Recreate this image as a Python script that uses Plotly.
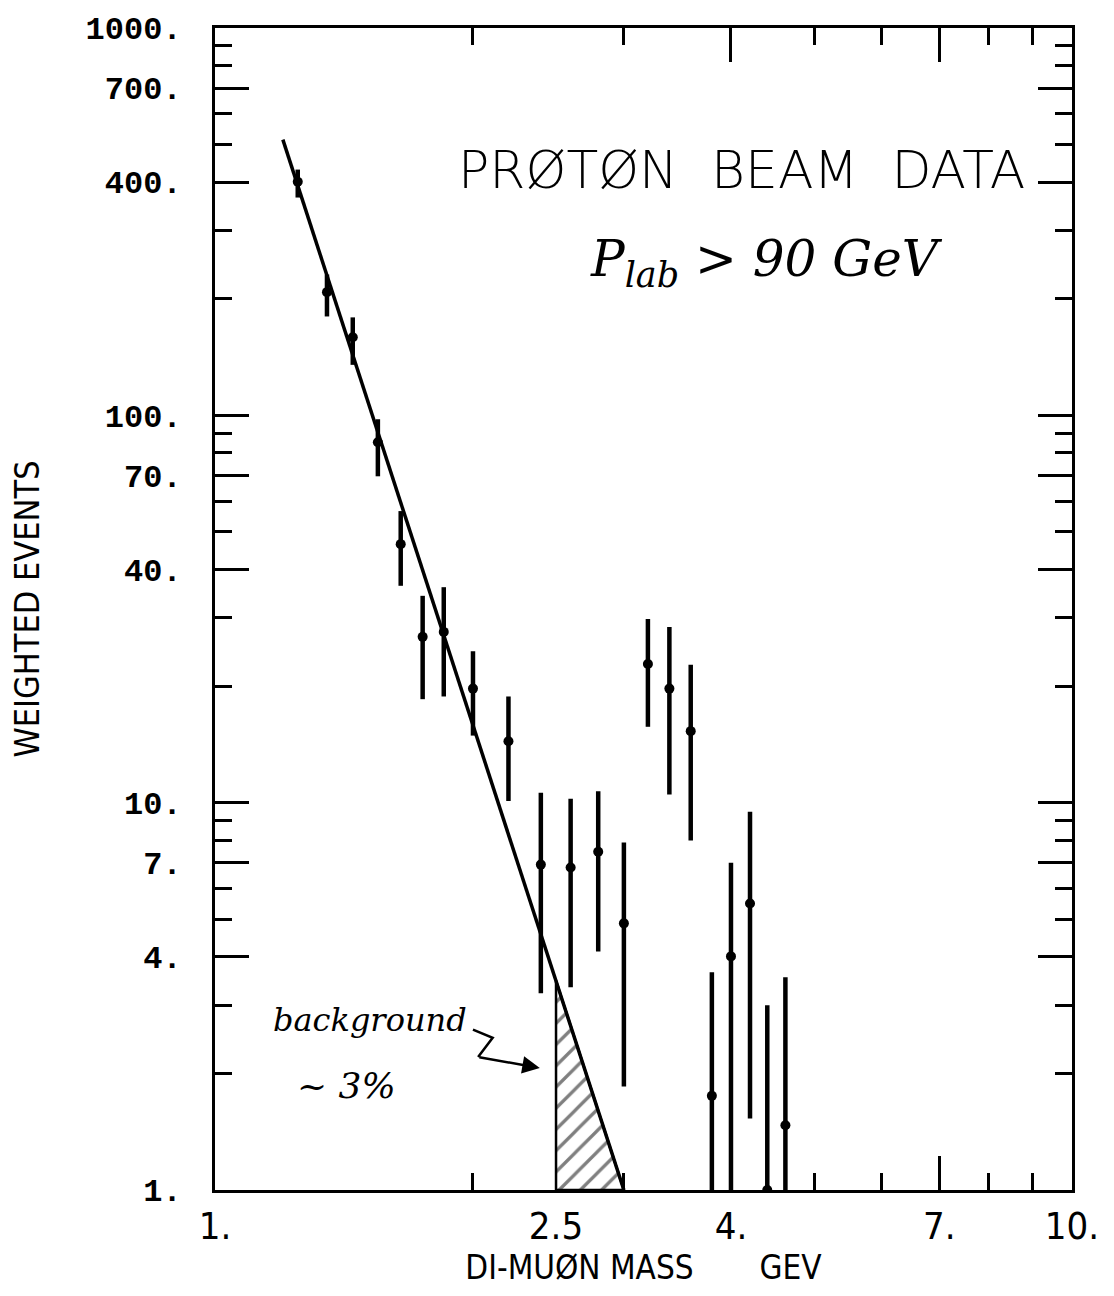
import plotly.graph_objects as go

# ---- data ----
mass = [1.249, 1.351, 1.448, 1.549, 1.647, 1.747, 1.849, 2.00, 2.20,
        2.40, 2.60, 2.80, 3.00, 3.20, 3.39, 3.59, 3.80, 4.00, 4.21, 4.41, 4.63]
events = [401, 208, 159, 85.2, 46.5, 26.8, 27.6, 19.7, 14.4,
          6.92, 6.80, 7.47, 4.88, 22.8, 19.7, 15.3, 1.75, 4.01, 5.49, 1.0, 1.47]
err_hi = [431, 231, 179, 97.7, 56.6, 34.2, 36.0, 24.6, 18.8,
          10.6, 10.24, 10.7, 7.89, 29.8, 28.4, 22.7, 3.65, 7.0, 9.48, 3.0, 3.54]
err_lo = [365, 180, 135, 69.6, 36.3, 18.5, 18.8, 14.9, 10.1,
          3.22, 3.34, 4.13, 1.85, 15.7, 10.5, 7.98, 1.0, 1.0, 1.53, 1.0, 1.0]

fit_x = [1.20, 3.00]
fit_y = [515, 1.0]

bg_x = [2.5, 2.5, 3.0, 2.5]
bg_y = [1.0, 3.47, 1.0, 1.0]

x_tickvals = [1, 2.5, 4, 7, 10]
x_ticktext = ["1.", "2.5", "4.", "7.", "10."]
x_long_ticks = [4, 7]
x_minor = [2, 3, 5, 6, 8, 9]
y_tickvals = [1, 4, 7, 10, 40, 70, 100, 400, 700, 1000]
y_ticktext = ["1.", "4.", "7.", "10.", "40.", "70.", "100.", "400.", "700.", "1000."]
y_minor = [2, 3, 5, 6, 8, 9, 20, 30, 50, 60, 80, 90, 200, 300, 500, 600, 800, 900]

NARROW = "Liberation Sans Narrow, DejaVu Sans Condensed, Arial Narrow, sans-serif"
HAND = "DejaVu Serif, serif"
NB = "\u00a0"

fig = go.Figure()

# hatched background region
fig.add_trace(go.Scatter(
    x=bg_x, y=bg_y, mode="lines", fill="toself",
    fillcolor="white",
    fillpattern=dict(shape="/", fgcolor="black", bgcolor="white", size=15, solidity=0.22),
    line=dict(color="black", width=2.5), hoverinfo="skip", showlegend=False,
    xaxis="x2", yaxis="y"))

# fit line
fig.add_trace(go.Scatter(
    x=fit_x, y=fit_y, mode="lines", line=dict(color="black", width=3.5),
    showlegend=False, xaxis="x2", yaxis="y"))

# data with error bars
fig.add_trace(go.Scatter(
    x=mass, y=events, mode="markers",
    marker=dict(color="black", size=10, symbol="circle"),
    error_y=dict(type="data", symmetric=False,
                 array=[h - v for h, v in zip(err_hi, events)],
                 arrayminus=[v - l for v, l in zip(events, err_lo)],
                 thickness=4.5, width=0, color="black"),
    showlegend=False, xaxis="x", yaxis="y"))

axis_common = dict(type="log", showgrid=False, zeroline=False, automargin=False)

fig.update_layout(
    width=1114, height=1296,
    margin=dict(l=215, r=42, t=28, b=106),
    paper_bgcolor="white", plot_bgcolor="white",
    xaxis=dict(**axis_common, range=[0, 1],
               tickmode="array", tickvals=x_tickvals, ticktext=x_ticktext,
               ticks="", showline=True, linecolor="black", linewidth=3, mirror="ticks",
               tickfont=dict(family=NARROW, size=38, color="black"),
               ticklabelstandoff=0,
               minor=dict(tickmode="array", tickvals=x_minor, ticks="inside",
                          ticklen=17, tickwidth=2.5, tickcolor="black"),
               title=dict(text="DI-MUØN" + NB + "MASS" + NB * 7 + "GEV" + NB * 9,
                          font=dict(family=NARROW, size=33, color="black"), standoff=8)),
    xaxis2=dict(**axis_common, range=[0, 1], overlaying="x", anchor="y", side="bottom",
                tickmode="array", tickvals=x_long_ticks, ticks="inside", ticklen=34,
                tickwidth=3, tickcolor="black", showticklabels=False, mirror="ticks",
                showline=False),
    yaxis=dict(**axis_common, range=[0, 3],
               tickmode="array", tickvals=y_tickvals, ticktext=y_ticktext,
               ticks="inside", ticklen=34, tickwidth=3, tickcolor="black",
               showline=True, linecolor="black", linewidth=3, mirror="ticks",
               tickfont=dict(family="Liberation Mono, Courier New, monospace", size=32,
                             color="black", weight="bold"),
               ticklabelstandoff=24,
               minor=dict(tickmode="array", tickvals=y_minor, ticks="inside",
                          ticklen=17, tickwidth=2.5, tickcolor="black"),
               title=dict(text="WEIGHTED EVENTS",
                          font=dict(family=NARROW, size=34, color="black"), standoff=36)),
)

fig.add_annotation(x=0.614, y=0.878, xref="paper", yref="paper",
                   xanchor="center", yanchor="middle",
                   text="PRØTØN" + NB * 2 + "BEAM" + NB * 2 + "DATA", showarrow=False,
                   font=dict(family="DejaVu Sans, sans-serif", size=52, color="black", weight=300))
fig.add_annotation(x=0.644, y=0.798, xref="paper", yref="paper",
                   xanchor="center", yanchor="middle",
                   text="<i>P<sub>lab</sub> > 90" + NB + "GeV</i>", showarrow=False,
                   font=dict(family=HAND, size=50, color="black"))
fig.add_annotation(x=0.181, y=0.146, xref="paper", yref="paper",
                   xanchor="center", yanchor="middle",
                   text="<i>background</i>", showarrow=False,
                   font=dict(family=HAND, size=32, color="black"))
fig.add_annotation(x=0.153, y=0.090, xref="paper", yref="paper",
                   xanchor="center", yanchor="middle",
                   text="<i>~ 3%</i>", showarrow=False,
                   font=dict(family=HAND, size=36, color="black"))
# arrow pointing at the hatched background
fig.add_annotation(x=0.379, y=0.105, xref="paper", yref="paper",
                   ax=-62, ay=-11, axref="pixel", ayref="pixel",
                   text="", showarrow=True, arrowhead=2, arrowsize=1.4,
                   arrowwidth=2.5, arrowcolor="black")
fig.add_shape(type="path", xref="paper", yref="paper",
              path="M 0.301 0.138 L 0.324 0.131 L 0.307 0.1145",
              line=dict(color="black", width=2.5))

fig.write_html("out.html")
